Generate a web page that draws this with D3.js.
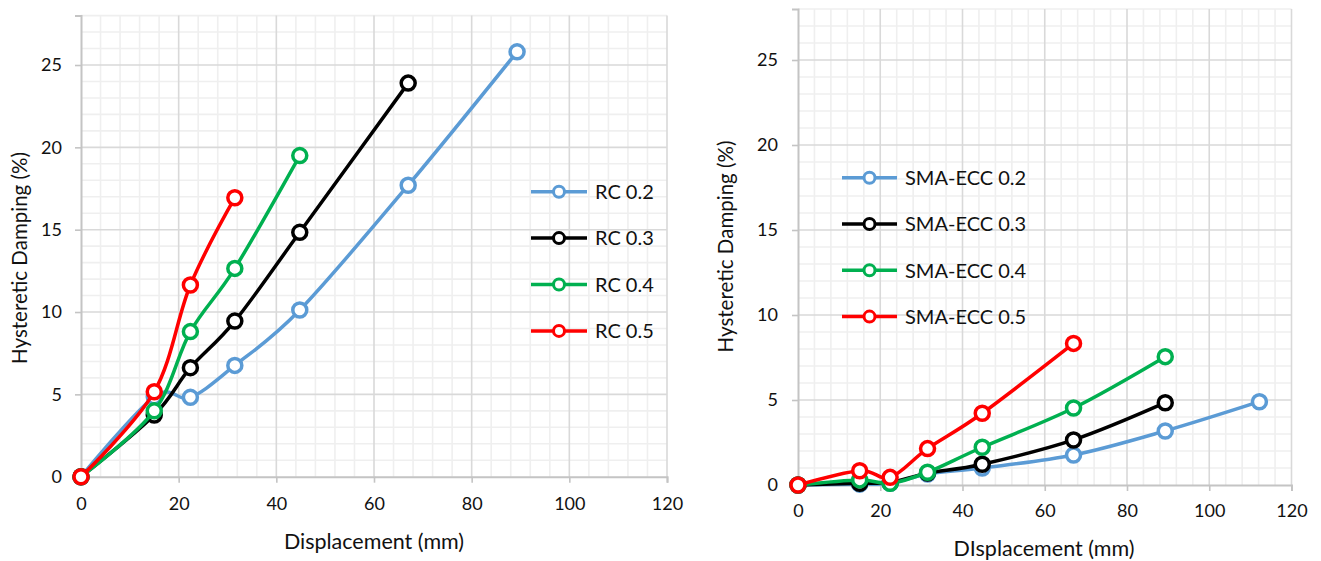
<!DOCTYPE html>
<html><head><meta charset="utf-8">
<script src="https://cdn.jsdelivr.net/npm/d3@7"></script>
<style>
html,body{margin:0;padding:0;background:#fff;}
svg{display:block;font-family:Lato, "Open Sans", sans-serif;}
</style></head>
<body><svg id="c" width="1321" height="561"></svg>
<script>
// ---- data ----
const displacement = [0, 15, 22.4, 31.5, 44.8, 67, 89.3, 112.2];
const xTicks = [0, 20, 40, 60, 80, 100, 120];
const yTicks = [0, 5, 10, 15, 20, 25];

const rcNames = ["RC 0.2", "RC 0.3", "RC 0.4", "RC 0.5"];
const rc02 = [0, 4.85, 4.82, 6.76, 10.12, 17.7, 25.8];
const rc03 = [0, 3.75, 6.62, 9.45, 14.84, 23.9];
const rc04 = [0, 4.0, 8.81, 12.65, 19.5];
const rc05 = [0, 5.16, 11.64, 16.94];

const smaNames = ["SMA-ECC 0.2", "SMA-ECC 0.3", "SMA-ECC 0.4", "SMA-ECC 0.5"];
const sma02 = [0, 0.05, 0.1, 0.65, 1.0, 1.76, 3.18, 4.9];
const sma03 = [0, 0.1, 0.15, 0.7, 1.22, 2.65, 4.84];
const sma04 = [0, 0.3, 0.1, 0.75, 2.22, 4.53, 7.55];
const sma05 = [0, 0.84, 0.45, 2.14, 4.22, 8.33];

const colors = ["#5B9BD5", "#000000", "#00B050", "#FF0000"];

const svg = d3.select("#c");

function drawChart(cfg) {
  const g = svg.append("g");
  const x = d3.scaleLinear().domain([0, 120]).range([cfg.x0, cfg.x1]);
  const y = d3.scaleLinear().domain([0, 28]).range([cfg.y0, cfg.y1]);

  // minor grid
  const xMinor = d3.range(0, 121, 4).filter(v => v % 20 !== 0);
  const yMinor = d3.range(0, 29, 1).filter(v => v % 5 !== 0);
  g.selectAll(".vm").data(xMinor).join("line")
    .attr("x1", d => x(d)).attr("x2", d => x(d)).attr("y1", y(0)).attr("y2", y(28))
    .attr("stroke", "#efefef").attr("stroke-width", 1.6);
  g.selectAll(".hm").data(yMinor).join("line")
    .attr("x1", x(0)).attr("x2", x(120)).attr("y1", d => y(d)).attr("y2", d => y(d))
    .attr("stroke", "#efefef").attr("stroke-width", 1.6);
  // major grid
  g.selectAll(".vM").data(xTicks.filter(v => v > 0)).join("line")
    .attr("x1", d => x(d)).attr("x2", d => x(d)).attr("y1", y(0)).attr("y2", y(28))
    .attr("stroke", "#d9d9d9").attr("stroke-width", 1.6);
  g.selectAll(".hM").data(yTicks.filter(v => v > 0)).join("line")
    .attr("x1", x(0)).attr("x2", x(120)).attr("y1", d => y(d)).attr("y2", d => y(d))
    .attr("stroke", "#d9d9d9").attr("stroke-width", 1.6);

  // axes
  const xAxis = d3.axisBottom(x).tickValues(xTicks).tickSize(6).tickPadding(cfg.xPad);
  const yAxis = d3.axisLeft(y).tickValues(yTicks).tickSize(6).tickPadding(cfg.yPad);
  const gx = g.append("g").attr("transform", `translate(0,${y(0)})`).call(xAxis);
  const gy = g.append("g").attr("transform", `translate(${x(0)},0)`).call(yAxis);
  [gx, gy].forEach(a => {
    a.select(".domain").attr("stroke", "#c4c4c4").attr("stroke-width", 2);
    a.selectAll(".tick line").attr("stroke", "#c4c4c4").attr("stroke-width", 1.6);
    a.selectAll("text").attr("font-size", 18).attr("fill", "#111").attr("font-family", "Lato");
  });

  // series
  const line = d3.line().x((d, i) => x(displacement[i])).y(d => y(d))
    .curve(d3.curveCardinal.tension(0));
  cfg.series.forEach((s, k) => {
    g.append("path").datum(s).attr("d", line).attr("fill", "none")
      .attr("stroke", colors[k]).attr("stroke-width", 3.5).attr("stroke-linejoin", "round");
    g.selectAll(null).data(s).join("circle")
      .attr("cx", (d, i) => x(displacement[i])).attr("cy", d => y(d)).attr("r", 7)
      .attr("fill", "#fff").attr("stroke", colors[k]).attr("stroke-width", 3.5);
  });

  // legend
  cfg.names.forEach((n, k) => {
    const ly = cfg.legY + k * cfg.legGap;
    g.append("line").attr("x1", cfg.legX).attr("x2", cfg.legX + cfg.legW).attr("y1", ly).attr("y2", ly)
      .attr("stroke", colors[k]).attr("stroke-width", 3.5);
    g.append("circle").attr("cx", cfg.legX + cfg.legW / 2).attr("cy", ly).attr("r", 5.5)
      .attr("fill", "#fff").attr("stroke", colors[k]).attr("stroke-width", 3);
    g.append("text").attr("x", cfg.legX + cfg.legW + 8).attr("y", ly).attr("dy", "0.36em")
      .attr("font-size", 20).attr("fill", "#111").text(n);
  });

  // titles
  g.append("text").attr("x", cfg.xtX).attr("y", cfg.xtY).attr("text-anchor", "middle")
    .attr("dy", "0.36em").attr("font-size", 21.5).attr("fill", "#111").text(cfg.xTitle);
  g.append("text").attr("transform", `translate(${cfg.ytX},${cfg.ytY}) rotate(-90)`)
    .attr("text-anchor", "middle").attr("dy", "0.36em").attr("font-size", 20.5).attr("fill", "#111")
    .text("Hysteretic Damping (%)");
}

drawChart({
  x0: 81, x1: 667, y0: 476.7, y1: 15.6, xPad: 15, yPad: 13,
  series: [rc02, rc03, rc04, rc05], names: rcNames,
  legX: 531, legW: 56, legY: 191.7, legGap: 46.4,
  xTitle: "Displacement (mm)", xtX: 374, xtY: 541, ytX: 20, ytY: 258
});
drawChart({
  x0: 798, x1: 1291.5, y0: 485, y1: 9, xPad: 13, yPad: 14,
  series: [sma02, sma03, sma04, sma05], names: smaNames,
  legX: 842, legW: 55, legY: 177.7, legGap: 46.3,
  xTitle: "DIsplacement (mm)", xtX: 1044, xtY: 548.5, ytX: 726, ytY: 246.5
});
</script></body></html>
